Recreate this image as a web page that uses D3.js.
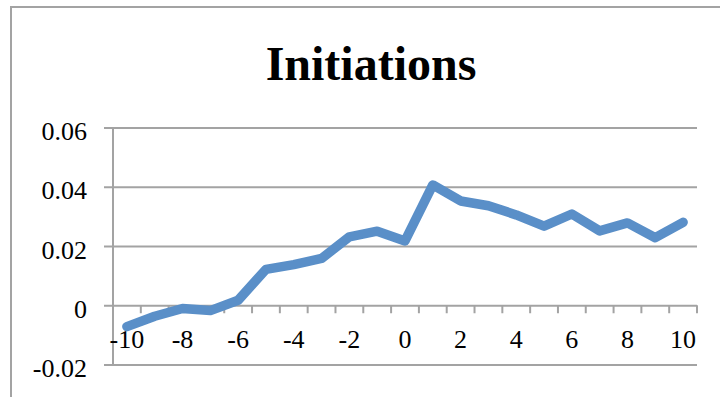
<!DOCTYPE html>
<html>
<head>
<meta charset="utf-8">
<script src="https://cdn.jsdelivr.net/npm/d3@7"></script>
<style>
  body { margin: 0; background: #fff; }
  text { font-family: "Liberation Serif", "DejaVu Serif", serif; fill: #000; }
</style>
</head>
<body>
<div id="chart"></div>
<script>
// Data
var periods = [-10, -9, -8, -7, -6, -5, -4, -3, -2, -1, 0, 1, 2, 3, 4, 5, 6, 7, 8, 9, 10];
var initiations = [-0.0072, -0.0037, -0.0011, -0.0018, 0.0017, 0.0121, 0.0137, 0.0158, 0.0231, 0.0250, 0.0217,
                   0.0406, 0.0352, 0.0336, 0.0305, 0.0267, 0.0308, 0.0251, 0.0278, 0.0228, 0.0280];
var yTicks = [-0.02, 0, 0.02, 0.04, 0.06];
var xLabels = [-10, -8, -6, -4, -2, 0, 2, 4, 6, 8, 10];

var svgWidth = 720;
var svgHeight = 397;

var plot = { left: 113, right: 697, top: 127.5, bottom: 364.5 };

var svg = d3.select("#chart")
  .append("svg")
  .attr("width", svgWidth)
  .attr("height", svgHeight);

// chart frame (only left and top edges show)
svg.append("path")
  .attr("d", "M11,397 L11,7 L720,7")
  .attr("fill", "none")
  .attr("stroke", "#a3a3a3")
  .attr("stroke-width", 2);

svg.append("text")
  .attr("x", 371)
  .attr("y", 80)
  .attr("text-anchor", "middle")
  .attr("font-size", "48px")
  .attr("font-weight", "bold")
  .text("Initiations");

// scales
var x = d3.scaleBand()
  .domain(periods)
  .range([plot.left, plot.right])
  .padding(0);

var y = d3.scaleLinear()
  .domain([-0.02, 0.06])
  .range([plot.bottom, plot.top]);

// y axis with gridlines
var yAxis = d3.axisLeft(y)
  .tickValues(yTicks)
  .tickSizeInner(-(plot.right - plot.left + 9))
  .tickSizeOuter(0)
  .tickPadding(17)
  .tickFormat(function(d) { return d === 0 ? "0" : d3.format(".2f")(d).replace("\u2212", "-"); });

var yG = svg.append("g")
  .attr("transform", `translate(${plot.left - 9}, 0)`)
  .call(yAxis);

yG.select(".domain").remove();
yG.selectAll(".tick line")
  .attr("stroke", "#a3a3a3")
  .attr("stroke-width", 2);
yG.selectAll(".tick text")
  .attr("font-size", "26px")
  .attr("font-family", "Liberation Serif")
  .attr("dy", "0.47em");

// vertical axis line
svg.append("line")
  .attr("x1", plot.left).attr("x2", plot.left)
  .attr("y1", y(0.06)).attr("y2", y(-0.02))
  .attr("stroke", "#a3a3a3")
  .attr("stroke-width", 2);

// category tick marks between bands
var bounds = periods.map(function(p) { return x(p); }).concat([x(periods[periods.length - 1]) + x.bandwidth()]);
svg.selectAll(".xtick")
  .data(bounds)
  .enter()
  .append("line")
  .attr("class", "xtick")
  .attr("x1", d => d).attr("x2", d => d)
  .attr("y1", y(0)).attr("y2", y(0) + 8)
  .attr("stroke", "#a3a3a3")
  .attr("stroke-width", 2);

// x labels
svg.selectAll(".xlabel")
  .data(xLabels)
  .enter()
  .append("text")
  .attr("class", "xlabel")
  .attr("x", d => x(d) + x.bandwidth() / 2)
  .attr("y", 348)
  .attr("text-anchor", "middle")
  .attr("font-size", "26px")
  .text(d => d);

// line
var line = d3.line()
  .x((d, i) => x(periods[i]) + x.bandwidth() / 2)
  .y(d => y(d));

svg.append("path")
  .datum(initiations)
  .attr("d", line)
  .attr("fill", "none")
  .attr("stroke", "#5a8fc8")
  .attr("stroke-width", 9.5)
  .attr("stroke-linejoin", "round")
  .attr("stroke-linecap", "round");
</script>
</body>
</html>
